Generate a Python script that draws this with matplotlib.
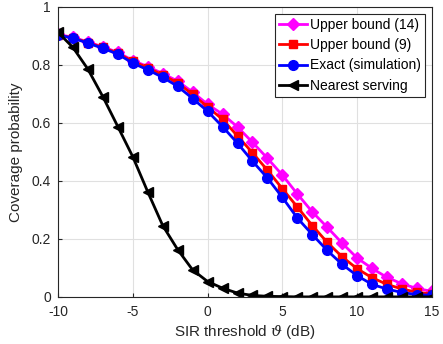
import matplotlib
matplotlib.use('Agg')
import matplotlib.pyplot as plt
import numpy as np

# SIR threshold in dB
theta_db = np.arange(-10, 16)

ub14 = [0.905, 0.895, 0.879, 0.862, 0.843, 0.815, 0.794, 0.770, 0.744, 0.706,
        0.664, 0.630, 0.586, 0.533, 0.478, 0.420, 0.355, 0.293, 0.240, 0.185,
        0.134, 0.098, 0.067, 0.045, 0.029, 0.019]
ub9 = [0.903, 0.893, 0.877, 0.860, 0.840, 0.812, 0.790, 0.765, 0.738, 0.698,
       0.655, 0.612, 0.555, 0.497, 0.437, 0.373, 0.310, 0.246, 0.188, 0.138,
       0.097, 0.066, 0.043, 0.027, 0.016, 0.010]
exact = [0.903, 0.892, 0.875, 0.857, 0.837, 0.806, 0.783, 0.757, 0.726, 0.684,
         0.640, 0.587, 0.530, 0.468, 0.410, 0.343, 0.272, 0.215, 0.160, 0.112,
         0.073, 0.043, 0.027, 0.015, 0.008, 0.005]
nearest = [0.912, 0.860, 0.785, 0.690, 0.587, 0.483, 0.362, 0.246, 0.163, 0.093,
           0.053, 0.030, 0.013, 0.005, 0.002, 0.001, 0.0, 0.0, 0.0, 0.0,
           0.0, 0.0, 0.0, 0.0, 0.0, 0.0]

xticks = [-10, -5, 0, 5, 10, 15]
yticks = [0, 0.2, 0.4, 0.6, 0.8, 1]
ytick_labels = ['0', '0.2', '0.4', '0.6', '0.8', '1']

plt.rcParams['font.family'] = ['Liberation Sans', 'DejaVu Sans']
plt.rcParams['mathtext.fontset'] = 'dejavuserif'

fig = plt.figure(figsize=(4.43, 3.44), dpi=100)
ax = fig.add_axes([0.131, 0.137, 0.844, 0.843])

ax.plot(theta_db, ub14, '-D', color='#ff00ff', lw=2, ms=6, label='Upper bound (14)')
ax.plot(theta_db, ub9, '-s', color='#ff0000', lw=2, ms=6, label='Upper bound (9)')
ax.plot(theta_db, exact, '-o', color='#0000ff', lw=2, ms=7, label='Exact (simulation)')
ax.plot(theta_db, nearest, '-<', color='k', lw=2, ms=7, label='Nearest serving')

ax.set_xlim(-10, 15)
ax.set_ylim(0, 1)
ax.set_xticks(xticks)
ax.set_xticklabels([str(v) for v in xticks])
ax.set_yticks(yticks)
ax.set_yticklabels(ytick_labels)
ax.tick_params(direction='in', labelsize=10, colors='#262626', length=3)
ax.tick_params(axis='x', pad=6)
ax.tick_params(axis='y', pad=5)
ax.grid(True, color='#e0e0e0', lw=0.8)
ax.set_axisbelow(True)
for s in ax.spines.values():
    s.set_color('#262626')
    s.set_linewidth(0.8)

ax.set_xlabel(r'SIR threshold $\vartheta$ (dB)', fontsize=11, color='#262626',
              labelpad=3)
ax.set_ylabel('Coverage probability', fontsize=11, color='#262626', labelpad=6)

leg = ax.legend(loc='upper right', fontsize=10, fancybox=False, framealpha=1,
                edgecolor='#262626', handlelength=2.0, handletextpad=0.2,
                borderpad=0.3, labelspacing=0.45, borderaxespad=0.5)
leg.get_frame().set_linewidth(0.8)

fig.savefig('out.png', dpi=100)
